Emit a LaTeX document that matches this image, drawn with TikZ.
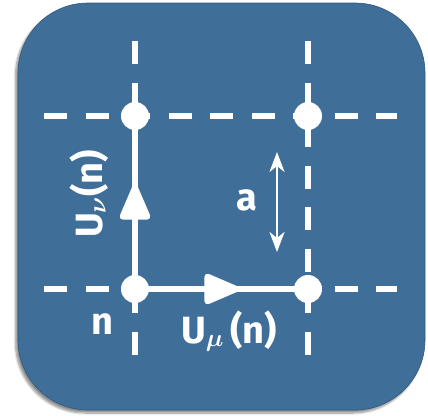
\documentclass[tikz,border=0pt]{standalone}
\usepackage{fontspec}
\setmainfont{Fira Sans}
\usepackage{amsmath}
\usetikzlibrary{arrows.meta,decorations.markings,shadows.blur}
\definecolor{tilebg}{HTML}{3F6E99}

\begin{document}
\begin{tikzpicture}[x=1pt,y=-1pt,
  tile/.style={fill=tilebg,draw=tilebg!80!black,line width=0.6pt,rounded corners=70pt,
    blur shadow={shadow xshift=-2.5pt,shadow yshift=-3pt,shadow blur steps=8,shadow opacity=45}},
  grid/.style={white,line width=6pt,dash pattern=on 23pt off 18.5pt},
  link/.style={white,line width=6.5pt,postaction={decorate},
    decoration={markings,mark=at position 0.6 with {\arrow{Triangle[length=40pt,width=32pt,round]}}}},
  site/.style={circle,fill=white,minimum size=28pt,inner sep=0pt},
  lbl/.style={text=white,inner sep=0pt,font=\fontsize{38}{44}\selectfont\bfseries\boldmath}]
  \useasboundingbox (0,0) rectangle (428,415);
  \fill[tile] (18,3) rectangle (425,410);
  \coordinate (n) at (135,289);
  \coordinate (nmu) at (308,289);
  \coordinate (nnu) at (135,116);
  \coordinate (nmunu) at (308,116);
  \draw[grid] (n |- 0,41) -- (n |- 0,358);
  \draw[grid] (nmu |- 0,41) -- (nmu |- 0,358);
  \draw[grid] (44,0 |- nnu) -- (397,0 |- nnu);
  \draw[grid] (44,0 |- n) -- (397,0 |- n);
  \draw[link] (n) -- (nnu);
  \draw[link] (n) -- (nmu);
  \node[site] (s) at (n) {};
  \node[site] (smu) at (nmu) {};
  \node[site] (snu) at (nnu) {};
  \node[site] (smunu) at (nmunu) {};
  \coordinate (atop) at (277,152);
  \coordinate (abot) at (277,252);
  \draw[white,line width=2.5pt,{Stealth[length=20pt,width=15pt,inset=6pt]}-{Stealth[length=20pt,width=15pt,inset=6pt]}] (atop) -- (abot);
  \node[lbl] (a) at (247,200) {a};
  \node[lbl] (site) at (102,324) {n};
  \node[lbl,anchor=base] (umu) at (229,343) {U$_{\boldsymbol{\mu}}$\,(n)};
  \node[lbl,anchor=base,rotate=90] (unu) at (102,194) {U$_{\boldsymbol{\nu}}$(n)};
\end{tikzpicture}
\end{document}
